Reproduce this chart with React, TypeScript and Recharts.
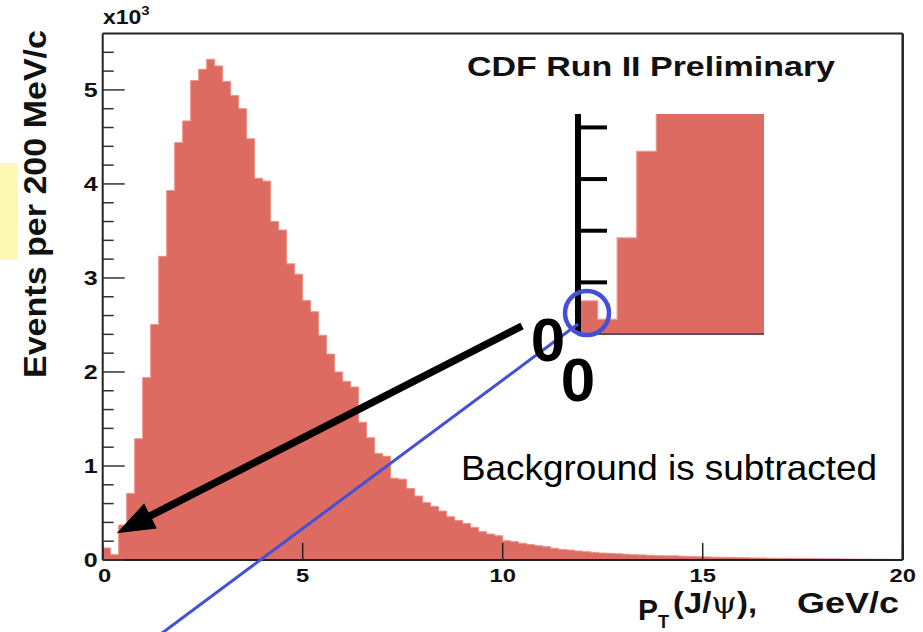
import React from 'react';
import { ComposedChart, Area, XAxis, YAxis, ReferenceLine } from 'recharts';

// J/psi transverse momentum spectrum, 200 MeV/c bins from 0 to 20 GeV/c
const BIN_WIDTH = 0.2;
const counts = [
  128, 57, 372, 707, 1290, 1940, 2505, 3230, 3930, 4440,
  4670, 5100, 5220, 5326, 5255, 5090, 4940, 4800, 4480, 4060,
  4030, 3600, 3510, 3150, 3040, 2760, 2640, 2390, 2190, 2000,
  1900, 1840, 1465, 1300, 1132, 1104, 870, 860, 760, 680,
  610, 570, 520, 460, 420, 389, 347, 301, 276, 258,
  205, 195, 177, 166, 152, 142, 124, 113, 106, 96,
  88, 81, 74, 71, 66, 62, 57, 54, 50, 46,
  44, 45, 40, 37, 35, 33, 30, 29, 27, 25,
  24, 22, 21, 19, 18, 17, 16, 15, 14, 13,
  12, 12, 11, 10, 9, 9, 8, 8, 7, 6,
];

const xTicks = [0, 5, 10, 15, 20];
const yTicks = [
  0, 200, 400, 600, 800, 1000, 1200, 1400, 1600, 1800, 2000, 2200, 2400, 2600,
  2800, 3000, 3200, 3400, 3600, 3800, 4000, 4200, 4400, 4600, 4800, 5000, 5200, 5400,
];
const insetYTicks = [200, 400, 600, 800];

// step data: one point per lower bin edge plus the closing edge
const histData = [
  ...counts.map((n, i) => ({ pt: i * BIN_WIDTH, n })),
  { pt: counts.length * BIN_WIDTH, n: counts[counts.length - 1] },
];

const FONT = '"Liberation Sans", Arial, Helvetica, sans-serif';
const BAR_FILL = '#dd6b61';
const BAR_EDGE = '#eb948b';
const BLUE = '#4650d6';

function XTick(props: any) {
  const { x, y, payload } = props;
  return (
    <g>
      <line x1={x} x2={x} y1={y} y2={y - 17} stroke="#222" strokeWidth={1.5} />
      <text
        transform={`translate(${x + (payload.value === 0 ? 2 : 0)},${y + 22}) scale(1.25,1)`}
        textAnchor="middle"
        fontFamily={FONT}
        fontWeight="bold"
        fontSize={19}
        fill="#111"
      >
        {payload.value}
      </text>
    </g>
  );
}

function YTick(props: any) {
  const { x, y, payload } = props;
  const major = payload.value % 1000 === 0;
  return (
    <g>
      <line x1={x} x2={x + (major ? 22 : 11)} y1={y} y2={y} stroke="#333" strokeWidth={1.5} />
      {major && (
        <text
          transform={`translate(${x - 5},${y + 7}) scale(1.25,1)`}
          textAnchor="end"
          fontFamily={FONT}
          fontWeight="bold"
          fontSize={20}
          fill="#111"
        >
          {payload.value / 1000}
        </text>
      )}
    </g>
  );
}

function InsetTick(props: any) {
  const { x, y } = props;
  return <line x1={x} x2={x + 29} y1={y} y2={y} stroke="#000" strokeWidth={4} />;
}

export default function App() {
  return (
    <div style={{ position: 'relative', width: 923, height: 632, background: '#fff', overflow: 'hidden' }}>
      <style>{'body{margin:0}'}</style>

      <ComposedChart
        width={923}
        height={632}
        data={histData}
        margin={{ top: 33.5, right: 20.3, bottom: 42, left: 42.7 }}
      >
        <Area
          type="stepAfter"
          dataKey="n"
          fill={BAR_FILL}
          fillOpacity={1}
          stroke={BAR_EDGE}
          strokeWidth={1}
          isAnimationActive={false}
        />
        <XAxis
          dataKey="pt"
          type="number"
          domain={[0, 20]}
          ticks={xTicks}
          interval={0}
          height={30}
          tickSize={0}
          tickMargin={0}
          tickLine={false}
          tick={(p: any) => <XTick {...p} />}
          axisLine={{ stroke: '#222', strokeWidth: 2 }}
          allowDataOverflow
        />
        <YAxis
          type="number"
          domain={[0, 5600]}
          ticks={yTicks}
          interval={0}
          width={60}
          tickSize={0}
          tickMargin={0}
          tickLine={false}
          tick={(p: any) => <YTick {...p} />}
          axisLine={{ stroke: '#222', strokeWidth: 2 }}
          allowDataOverflow
        />
        <ReferenceLine y={5600} stroke="#222" strokeWidth={2} />
        <ReferenceLine x={20} stroke="#222" strokeWidth={2.5} />
      </ComposedChart>

      {/* zoom on the lowest bins */}
      <div style={{ position: 'absolute', left: 568, top: 104 }}>
        <ComposedChart
          width={201}
          height={232}
          data={histData}
          margin={{ top: 10, right: 5, bottom: 0, left: 0 }}
        >
          <Area
            type="stepAfter"
            dataKey="n"
            fill={BAR_FILL}
            fillOpacity={1}
            stroke={BAR_EDGE}
            strokeWidth={1.2}
            isAnimationActive={false}
          />
          <XAxis
            dataKey="pt"
            type="number"
            domain={[0, 1.9]}
            height={2}
            tick={false}
            tickLine={false}
            axisLine={{ stroke: '#555', strokeWidth: 2 }}
            allowDataOverflow
          />
          <YAxis
            type="number"
            domain={[0, 852]}
            ticks={insetYTicks}
            interval={0}
            width={10}
            tickSize={0}
            tickMargin={0}
            tickLine={false}
            tick={(p: any) => <InsetTick {...p} />}
            axisLine={{ stroke: '#000', strokeWidth: 6 }}
            allowDataOverflow
          />
        </ComposedChart>
      </div>

      <svg
        width={923}
        height={632}
        style={{ position: 'absolute', left: 0, top: 0, pointerEvents: 'none' }}
        fontFamily={FONT}
      >
        <rect x={0} y={163} width={18} height={97} fill="#fdf9b2" />

        <text x={46} y={204} transform="rotate(-90 46 204)" textAnchor="middle" fontSize={31} fontWeight="bold" textLength={348} lengthAdjust="spacingAndGlyphs" fill="#111">
          Events per 200 MeV/c
        </text>

        <text transform="translate(103,24) scale(1.15,1)" fontSize={20} fontWeight="bold" fill="#111">
          x10<tspan fontSize={13} dy={-9}>3</tspan>
        </text>

        <text x={467} y={76} fontSize={28} fontWeight="bold" textLength={368} lengthAdjust="spacingAndGlyphs" fill="#111">
          CDF Run II Preliminary
        </text>

        <text x={461} y={480} fontSize={35} textLength={416} lengthAdjust="spacingAndGlyphs" fill="#000">
          Background is subtracted
        </text>

        {/* axis title */}
        <text x={638} y={620} fontSize={30} fontWeight="bold" fill="#111">P</text>
        <text x={658} y={628} fontSize={18} fontWeight="bold" fill="#111">T</text>
        <text x={673} y={613} fontSize={29} fontWeight="bold" textLength={84} lengthAdjust="spacingAndGlyphs" fill="#111">
          (J/<tspan fontFamily='"DejaVu Serif", serif' fontWeight="normal">ψ</tspan>),
        </text>
        <text x={797} y={613} fontSize={29} fontWeight="bold" textLength={102} lengthAdjust="spacingAndGlyphs" fill="#111">
          GeV/c
        </text>

        {/* pointer from the inset origin back to the main histogram */}
        <line x1={578} y1={324} x2={150} y2={642} stroke={BLUE} strokeWidth={3} />
        <circle cx={587} cy={313} r={22} fill="none" stroke={BLUE} strokeWidth={4.5} />

        <line x1={522} y1={326} x2={150} y2={516} stroke="#000" strokeWidth={7.5} />
        <polygon points="116.7,533.3 156.9,528.5 144.1,503.5" fill="#000" />

        <text x={548} y={361} textAnchor="middle" fontSize={62} fontWeight="bold" fill="#000">0</text>
        <text x={578} y={401} textAnchor="middle" fontSize={62} fontWeight="bold" fill="#000">0</text>
      </svg>
    </div>
  );
}
